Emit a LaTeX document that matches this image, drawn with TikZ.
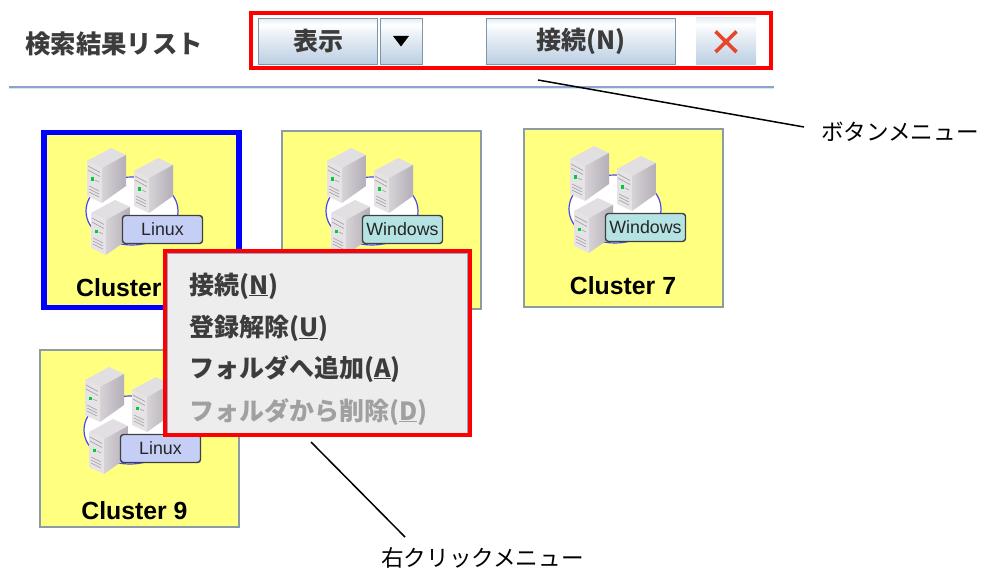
\documentclass[tikz,border=0pt]{standalone}
\usepackage{fontspec}
\setmainfont{Liberation Sans}
\newfontfamily\jp{Noto Sans CJK JP}
\definecolor{cardyellow}{HTML}{FFFF80}
\definecolor{cardedge}{HTML}{8C9CA4}
\definecolor{btnedge}{HTML}{7F95A8}
\definecolor{rulecol}{HTML}{8CA3CF}
\definecolor{menuedge}{HTML}{8FA6CE}
\definecolor{jpgray}{HTML}{3C3C3C}
\definecolor{dimgray}{HTML}{A0A0A0}
\definecolor{linuxcol}{HTML}{C5CFF5}
\definecolor{wincol}{HTML}{B5E3E3}
\definecolor{crosscol}{HTML}{E8452A}
\definecolor{srvtop}{HTML}{E2DFE2}
\definecolor{srvleft}{HTML}{E6E3E6}
\definecolor{srvr}{HTML}{D6D2D6}
\definecolor{srvrb}{HTML}{B4AFB8}
\definecolor{srvline}{HTML}{9F9B9F}
\definecolor{ringcol}{HTML}{4A4AE6}
\definecolor{btnbot}{HTML}{BACEE2}
\definecolor{btnmid}{HTML}{EEF3F8}
\definecolor{btntop}{HTML}{E8EEF4}
\pgfdeclareverticalshading{btnshade}{100bp}{color(0bp)=(btnbot);color(25bp)=(btnbot);color(60bp)=(btnmid);color(68bp)=(white);color(75bp)=(btntop);color(100bp)=(btntop)}
\tikzset{
  px/.code={\fontsize{#1}{#1}\selectfont},
  cardbox/.style={draw=cardedge,line width=2pt,fill=cardyellow,inner sep=0pt,outer sep=0pt,minimum width=198.5pt,minimum height=177pt},
  selcard/.style={draw=blue,line width=5.5pt,fill=cardyellow,inner sep=0pt,outer sep=0pt,minimum width=195pt,minimum height=174.5pt},
  cardtext/.style={font=\bfseries,px=24.8,text=black,inner sep=0pt,anchor=base},
  badge/.style={draw=black!75,line width=1.4pt,rounded corners=3pt,inner sep=0pt,outer sep=0pt,minimum width=80pt,minimum height=28pt,px=17.8,text=black!85},
  btn/.style={draw=btnedge,line width=1.6pt,shading=btnshade,inner sep=0pt,outer sep=0pt,minimum height=46pt,text=jpgray},
  redbox/.style={draw=red,line width=4pt,inner sep=0pt,outer sep=0pt},
  jplabel/.style={inner sep=0pt,text=black,px=22.6},
  menutext/.style={inner sep=0pt,anchor=base west,text=jpgray,px=25},
  leader/.style={draw=black,line width=1.5pt}
}
\newcommand{\serverat}[2]{%
  \begin{scope}[shift={(#1,#2)}]
    \fill[srvtop] (24,0) -- (0,13) -- (15,20) -- (39,7) -- cycle;
    \fill[srvleft] (0,13) -- (15,20) -- (15,55) -- (0,48) -- cycle;
    \shade[left color=srvr,right color=srvrb] (15,20) -- (39,7) -- (39,38) -- (15,55) -- cycle;
    \draw[srvline,line width=.6pt] (1,18) -- (13,24.5) (1,22) -- (13,28.5);
    \fill[green!60!teal] (4,29.5) rectangle (7,33);
    \draw[srvline,line width=.5pt] (8,32) -- (12,34) (2,38) -- (12,43) (2,41) -- (12,46) (2,44) -- (12,49);
  \end{scope}}
\newcommand{\clusterart}[2]{%
  \draw[ringcol,line width=1.2pt,fill=white] (#1+91,#2+81) ellipse [x radius=46,y radius=34];
  \serverat{#1+46}{#2+18}
  \serverat{#1+93}{#2+28}
  \serverat{#1+50}{#2+70}}
\begin{document}
\begin{tikzpicture}[x=1pt,y=-1pt]
\useasboundingbox[fill=white] (0,0) rectangle (981,569);
% header
\node[inner sep=0pt,anchor=west,text=jpgray,font=\jp\bfseries,px=25.4] (title) at (25,43.5) {検索結果リスト};
\draw[rulecol!30,line width=1pt] (9,88.5) -- (774,88.5);
\draw[rulecol,line width=1.6pt] (9,87) -- (774,87);
\node[btn,minimum width=119pt,font=\jp\bfseries,px=25] (show) at (318,41.5) {表示};
\node[btn,minimum width=42pt] (drop) at (401.5,41.5) {};
\fill[black] (393,36) -- (409,36) -- (401,46.5) -- cycle;
\node[btn,minimum width=189pt,font=\jp\bfseries,px=25] (conn) at (581,41.5) {接続(N)};
\node[shading=btnshade,inner sep=0pt,outer sep=0pt,minimum width=60pt,minimum height=47pt] (xbtn) at (726,41.5) {};
\draw[crosscol,line width=3.6pt] (xbtn.center) ++(-10.5,-10) -- ++(21,20.5) (xbtn.center) ++(10.5,-10) -- ++(-21,20.5);
\node[redbox,minimum width=520pt,minimum height=55pt] (btnbox) at (511,40.5) {};
% cards
\node[selcard] (card1) at (141.5,220) {};
\node[cardbox] (card2) at (381.7,220) {};
\node[cardbox] (card3) at (623.7,218) {};
\node[cardbox] (card4) at (139.5,438.5) {};
\clusterart{41}{130}
\clusterart{281}{130}
\clusterart{524}{128}
\clusterart{39}{349}
\node[badge,fill=linuxcol] (b1) at (162.5,229.5) {Linux};
\node[badge,fill=wincol] (b2) at (402.5,229.5) {Windows};
\node[badge,fill=wincol] (b3) at (645.5,227.5) {Windows};
\node[badge,fill=linuxcol] (b4) at (160.5,448.5) {Linux};
\node[cardtext,anchor=base west] (t1) at (76,296) {Cluster};
\node[cardtext] (t3) at (623,294) {Cluster 7};
\node[cardtext] (t4) at (134.5,519) {Cluster 9};
% context menu
\node[draw=menuedge,line width=1.6pt,fill=black!7,inner sep=0pt,outer sep=0pt,minimum width=301pt,minimum height=180pt] (menu) at (317.5,343.5) {};
\node[menutext,font=\jp\bfseries] (m1) at (189,294) {接続(\underline{N})};
\node[menutext,font=\jp\bfseries] (m2) at (189,336) {登録解除(\underline{U})};
\node[menutext,font=\jp\bfseries] (m3) at (189,377) {フォルダへ追加(\underline{A})};
\node[menutext,font=\jp\bfseries,text=dimgray] (m4) at (189,420) {フォルダから削除(\underline{D})};
\node[redbox,minimum width=305pt,minimum height=184pt] (menubox) at (317.5,343) {};
% annotations
\node[jplabel,anchor=west,font=\jp] (lab1) at (821,132) {ボタンメニュー};
\node[jplabel,anchor=west,font=\jp] (lab2) at (381,558) {右クリックメニュー};
\coordinate (c1a) at (538,80);
\coordinate (c1b) at (804,127);
\coordinate (c2a) at (311,442);
\coordinate (c2b) at (405,537);
\draw[leader] (c1a) -- (c1b);
\draw[leader] (c2a) -- (c2b);
\end{tikzpicture}
\end{document}
